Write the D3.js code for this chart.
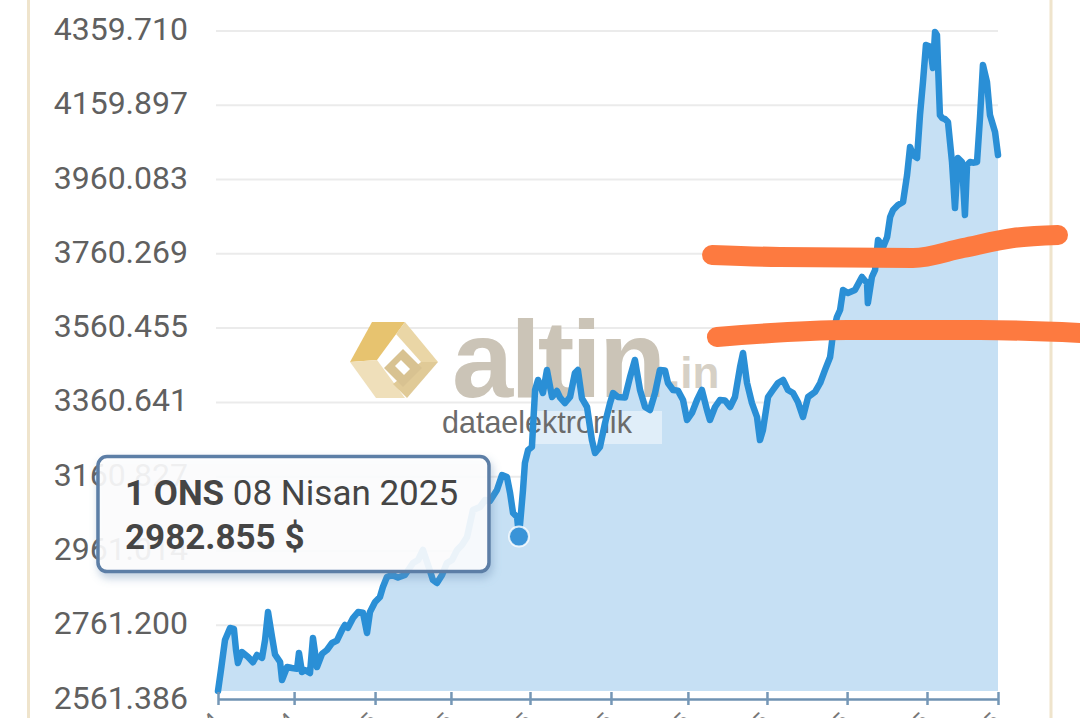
<!DOCTYPE html>
<html><head><meta charset="utf-8">
<script src="https://cdn.jsdelivr.net/npm/d3@7"></script>
<style>html,body{margin:0;padding:0;background:#fff;overflow:hidden}svg{display:block}</style>
</head><body><svg id="chart" width="1080" height="718"></svg>
<script>
// ---- data (day offset from 17.11.2024, ounce gold price in $) ----
const days = [0,1.4,3.3,5.7,7.5,8.5,9.4,11.3,14.2,16.5,
18.4,20.8,22.2,23.6,25.5,26.9,29.3,30.2,32.6,34.9,
37.3,38.2,39.6,41.0,43.4,44.8,46.7,49.1,51.4,53.8,
56.1,58.5,59.9,61.3,63.7,66.1,68.4,70.3,71.7,74.1,
76.4,77.8,79.7,82.1,84.9,88.2,92.0,94.4,96.7,99.1,
101.4,103.3,105.7,108.0,110.4,112.8,115.1,117.5,120.3,123.6,
126.0,128.3,131.6,134.0,136.3,137.8,139.2,141.1,142.0,143.9,
144.8,146.3,148.1,149.6,151.0,153.3,155.2,157.6,159.9,161.4,
163.7,166.1,168.4,169.8,171.7,174.1,176.4,177.9,180.2,182.6,
184.9,186.4,188.7,192.0,194.4,196.7,199.1,201.5,203.8,206.2,
208.5,210.9,212.3,214.7,217.0,219.4,221.3,223.6,226.0,228.3,
230.7,232.1,234.5,236.8,239.2,241.6,243.9,246.3,247.7,249.6,
251.9,254.3,255.7,257.1,259.5,261.8,264.2,266.6,268.9,271.3,
273.6,276.0,278.4,281.7,284.1,286.4,288.8,290.2,292.0,293.5,
294.9,297.2,300.5,303.8,306.2,306.6,308.5,310.0,311.4,313.8,
315.7,317.1,318.5,320.8,323.2,325.1,326.5,327.9,329.8,331.2,
332.6,334.0,335.9,337.3,338.3,339.2,339.7,340.6,341.6,343.0,
344.4,346.3,347.7,349.1,351.0,352.4,353.4,354.8,356.2,358.1,
359.5,360.9,362.8,364.2,366.6,368.0];
const prices = [2561.386,2618.7,2700.6,2733.3,2731.0,2673.3,2637.8,2667.8,2654.2,2640.0,
2659.6,2652.0,2700.6,2777.0,2708.8,2661.0,2640.5,2591.4,2626.9,2624.2,
2622.0,2665.1,2613.2,2618.7,2610.5,2706.0,2626.9,2663.0,2673.3,2692.4,
2699.0,2727.9,2741.5,2734.0,2760.6,2777.0,2775.0,2719.7,2777.0,2804.3,
2817.9,2845.2,2872.5,2878.0,2871.0,2878.0,2910.7,2918.9,2946.2,2905.2,
2864.3,2856.1,2878.0,2910.7,2918.9,2946.2,2959.8,2981.7,3055.3,3063.5,
3082.6,3080.0,3109.9,3150.8,3145.4,3101.7,3047.1,3036.2,2982.855,3109.9,
3183.6,3219.1,3227.3,3382.8,3410.1,3374.6,3437.4,3363.7,3380.0,3362.0,
3347.3,3363.7,3429.2,3437.4,3360.0,3336.4,3246.4,3210.9,3227.3,3292.7,
3346.0,3374.6,3363.7,3362.0,3418.3,3464.7,3382.8,3336.4,3328.2,3374.6,
3437.4,3436.0,3401.9,3382.8,3381.0,3355.5,3300.9,3320.0,3355.5,3382.8,
3328.2,3300.9,3336.4,3355.5,3354.0,3336.4,3363.7,3445.6,3483.8,3401.9,
3347.3,3309.1,3246.4,3273.6,3363.7,3382.8,3401.9,3410.1,3382.8,3374.6,
3350.0,3309.1,3363.7,3377.4,3401.9,3437.4,3472.9,3538.3,3582.0,3601.1,
3655.7,3647.5,3655.7,3691.2,3674.8,3620.2,3691.2,3710.3,3792.1,3773.0,
3800.3,3854.9,3874.0,3887.6,3895.8,3969.5,4045.9,4024.1,4015.9,4133.2,
4223.3,4324.3,4320.0,4261.5,4359.710,4351.6,4269.7,4133.2,4125.1,4122.0,
4114.1,4005.0,3879.5,4015.9,4005.0,3860.4,3996.8,4005.0,4003.0,4005.0,
4125.1,4269.7,4223.3,4133.2,4086.9,4024.1];
const yTickValues = [4359.710,4159.897,3960.083,3760.269,3560.455,3360.641,3160.827,2961.014,2761.200,2561.386];
const xTickDays = [0,35.9,74.1,109.9,147.2,185.4,221.7,259.0,296.8,334.5,368];
const xTickLabels = ["17.11.2024","23.12.2024","30.01.2025","06.03.2025","13.04.2025","21.05.2025","26.06.2025","03.08.2025","09.09.2025","17.10.2025","20.11.2025"];
const tooltipDay = 142.0;
const tooltipUnit = "1 ONS";
const tooltipDate = "08 Nisan 2025";
const tooltipPrice = 2982.855;
// hand-drawn orange marks, in [day, price]
const upperMark = [[233.1,3751.2],[265.1,3745.7],[327.9,3743.0],[351.5,3770.3],[375.1,3797.6],[396.3,3805.8]];
const lowerMark = [[235.4,3527.4],[296.8,3546.5],[359.5,3546.5],[407.6,3538.3]];

const data = days.map((d,i)=>({day:d, price:prices[i]})).filter(d=>d.price!==undefined);

const svg = d3.select("#chart");
const W = 1080, H = 718;
const x = d3.scaleLinear().domain([0, 368]).range([218, 998]);
const yMin = d3.min(prices), yMax = d3.max(prices);
const y = d3.scaleLinear().domain([yMin, yMax]).range([691, 32]);
const yAx = d3.scaleLinear().domain([yTickValues[yTickValues.length-1], yTickValues[0]]).range([699.5, 31]);

const defs = svg.append("defs");
const f = defs.append("filter").attr("id","shadow").attr("x","-10%").attr("y","-10%").attr("width","130%").attr("height","140%");
f.append("feDropShadow").attr("dx",2).attr("dy",5).attr("stdDeviation",4).attr("flood-color","#6d8fb5").attr("flood-opacity",0.45);

// frame borders
svg.append("line").attr("x1",28.5).attr("x2",28.5).attr("y1",0).attr("y2",H).attr("stroke","#efe4cc").attr("stroke-width",3);
svg.append("line").attr("x1",1051).attr("x2",1051).attr("y1",0).attr("y2",H).attr("stroke","#efe4cc").attr("stroke-width",3);

// gridlines + y labels
const gy = svg.append("g");
gy.selectAll("line").data(yTickValues.slice(0,-1)).join("line")
  .attr("x1",216).attr("x2",998).attr("y1",d=>yAx(d)).attr("y2",d=>yAx(d))
  .attr("stroke","#ebebeb").attr("stroke-width",2);
gy.selectAll("text").data(yTickValues).join("text")
  .attr("x",188).attr("y",d=>yAx(d)+9).attr("text-anchor","end")
  .attr("font-family","Roboto, 'Noto Sans', sans-serif").attr("font-size",32).attr("fill","#606060")
  .text(d=>d3.format(".3f")(d));

// area
svg.append("path").datum(data)
  .attr("d", d3.area().x(d=>x(d.day)).y0(y(yMin)).y1(d=>y(d.price)))
  .attr("fill","#c6e0f4");

// watermark
const wm = svg.append("g");
const icon = [
  {pts:[[372,322],[405,322],[377,360],[350,362]], c:"#e7c36f"},
  {pts:[[350,362],[377,360],[405,398],[376,398]], c:"#efdfba"},
  {pts:[[405,322],[438,362],[421,362],[396,334]], c:"#ead6a6"},
  {pts:[[438,362],[407,398],[393,384],[421,362]], c:"#e0ca97"},
  {pts:[[403,349],[422,368],[403,387],[384,368]], c:"#d8c291"},
  {pts:[[401,360],[410,369],[404,375],[395,366]], c:"#ffffff"}
];
wm.selectAll("polygon").data(icon).join("polygon")
  .attr("points",d=>d.pts.map(p=>p.join(",")).join(" ")).attr("fill",d=>d.c);
wm.append("text").attr("x",452).attr("y",397).attr("font-family","'Liberation Sans', Arial, sans-serif")
  .attr("font-weight","bold").attr("font-size",110).attr("letter-spacing",-3).attr("fill","#cbc4b7").text("altin");
wm.append("text").attr("x",668).attr("y",388).attr("font-family","'Liberation Sans', Arial, sans-serif")
  .attr("font-weight","bold").attr("font-size",44).attr("fill","#d6d0c5").text(".in");
wm.append("rect").attr("x",440).attr("y",411).attr("width",222).attr("height",33).attr("fill","#ffffff").attr("fill-opacity",0.45);
wm.append("text").attr("x",442).attr("y",433).attr("font-family","'Liberation Sans', Arial, sans-serif")
  .attr("font-size",30.5).attr("fill","#6b6b6b").text("dataelektronik");

// line
svg.append("path").datum(data)
  .attr("d", d3.line().x(d=>x(d.day)).y(d=>y(d.price)))
  .attr("fill","none").attr("stroke","#2a8fd6").attr("stroke-width",6.5)
  .attr("stroke-linejoin","round").attr("stroke-linecap","round");

// x axis
const ax = svg.append("g").attr("transform","translate(0,699)")
  .call(d3.axisBottom(x).tickValues(xTickDays).tickFormat((d,i)=>xTickLabels[i]).tickSizeOuter(0).tickSizeInner(6));
ax.select(".domain").attr("stroke","#6f92b2").attr("stroke-width",2.5);
ax.selectAll(".tick line").attr("y1",-7).attr("y2",6).attr("stroke","#7597b6").attr("stroke-width",2.5);
ax.selectAll(".tick text").attr("font-family","Roboto, sans-serif").attr("font-size",22).attr("fill","#777")
  .attr("text-anchor","end").attr("y",0).attr("dy",0)
  .attr("transform","translate(3,23) rotate(-45)");

// highlighted point + tooltip
const tp = data.find(d=>d.day===tooltipDay);
const px = x(tp.day), py = y(tp.price);
svg.append("circle").attr("cx",px).attr("cy",py).attr("r",10).attr("fill","#3a94d8")
  .attr("stroke","#ffffff").attr("stroke-opacity",0.8).attr("stroke-width",2);

const tg = svg.append("g").attr("transform",`translate(${px-421},${py-80})`);
tg.append("rect").attr("x",0).attr("y",0).attr("width",391).attr("height",115).attr("rx",9)
  .attr("fill","#ffffff").attr("fill-opacity",0.88).attr("stroke","#5c7ea6").attr("stroke-width",3.5)
  .attr("filter","url(#shadow)");
const t1 = tg.append("text").attr("x",27).attr("y",48).attr("font-family","Roboto, sans-serif").attr("font-size",35).attr("fill","#454545");
t1.append("tspan").attr("font-weight","bold").text(tooltipUnit);
t1.append("tspan").text(" " + tooltipDate);
tg.append("text").attr("x",27).attr("y",92).attr("font-family","Roboto, sans-serif").attr("font-size",35)
  .attr("font-weight","bold").attr("fill","#454545").text(d3.format(".3f")(tooltipPrice) + " $");

// orange hand-drawn marks
const markLine = d3.line().x(d=>x(d[0])).y(d=>y(d[1])).curve(d3.curveMonotoneX);
svg.selectAll("path.mark").data([upperMark, lowerMark]).join("path").attr("class","mark")
  .attr("d", markLine).attr("fill","none").attr("stroke","#fd7a40").attr("stroke-width",20)
  .attr("stroke-linecap","round").attr("stroke-linejoin","round");
</script></body></html>
